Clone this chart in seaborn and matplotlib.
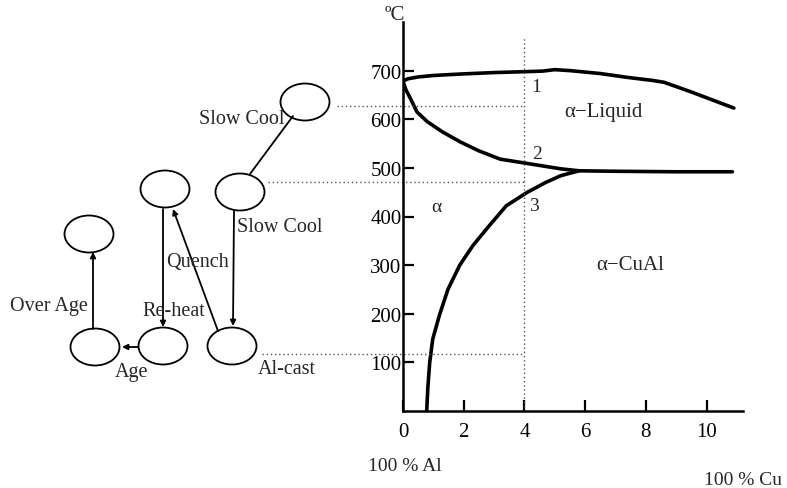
import numpy as np
import pandas as pd
import matplotlib
matplotlib.use("Agg")
import matplotlib.pyplot as plt
from matplotlib.patches import Ellipse
import seaborn as sns

# ---- data (phase diagram, % Cu vs temperature in °C) ----
liquidus_x = [0, 0.15, 0.5, 1.0, 1.9, 3.0, 4.1, 4.6, 5.0, 5.5, 6.5, 7.4, 8.2, 8.6, 9.5, 10.9]
liquidus_t = [678, 683, 687, 690, 693, 696, 698, 699, 702, 700, 694, 686, 680, 676, 656, 623]
solidus_x = [0, 0.1, 0.25, 0.46, 0.8, 1.3, 1.9, 2.5, 3.2, 4.1, 5.2, 5.8, 7.0, 9.0, 10.85]
solidus_t = [678, 660, 642, 615, 595, 574, 553, 535, 518, 509, 498, 494, 493, 492, 492]
solvus_x = [0.78, 0.82, 0.88, 0.98, 1.2, 1.48, 1.87, 2.3, 2.8, 3.4, 4.1, 4.7, 5.2, 5.8]
solvus_t = [0, 50, 100, 148, 197, 250, 300, 340, 378, 422, 450, 470, 484, 494]
x_ticks = [0, 2, 4, 6, 8, 10]
y_ticks = [100, 200, 300, 400, 500, 600, 700]
alloy_cu = 4
guide_temps = [628, 471, 117]          # dotted levels from the process nodes
guide_start = [-2.17, -4.45, -4.65]

# ---- process diagram (schematic nodes, pixel layout) ----
node_names = ["solution_top", "slow1", "quenched", "overaged", "aged", "reheat", "alcast"]
node_x = [305, 240, 165, 89, 95, 163, 232]
node_y = [103, 193, 190, 235, 348, 347, 347]
arrow_from = [(293, 117), (234, 212), (163, 210), (218, 332), (93, 330), (138, 348)]
arrow_to = [(250, 175), (233, 327), (163, 328), (173, 210), (93, 253), (122, 348)]
arrow_head = [False, True, True, True, True, True]
proc_labels = ["Slow Cool", "Slow Cool", "Quench", "Over Age", "Re-heat", "Age", "Al-cast"]
proc_lx = [199, 237, 166, 10, 142, 115, 258]
proc_ly = [120, 227, 263, 307, 312, 372, 370]

sns.set_theme(style="white")
plt.rcParams["font.family"] = ["Liberation Serif", "DejaVu Serif"]

W, H = 787, 489
fig = plt.figure(figsize=(W / 100, H / 100), dpi=100)
fig.patch.set_facecolor("white")

# phase diagram axes
x0, x1 = 403, 743
y0, y1 = 412, 23
ax = fig.add_axes([x0 / W, (H - y0) / H, (x1 - x0) / W, (y0 - y1) / H])
ax.set_xlim(0, 11.2)
ax.set_ylim(0, 800)
ax.patch.set_alpha(0)

for xs, ts in [(liquidus_x, liquidus_t), (solidus_x, solidus_t), (solvus_x, solvus_t)]:
    df = pd.DataFrame({"x": xs, "t": ts})
    sns.lineplot(data=df, x="x", y="t", ax=ax, color="black", lw=2.6, sort=False,
                 estimator=None)

dot = (0, (1, 2))
ax.plot([alloy_cu, alloy_cu], [0, 772], color="#555555", lw=1.0, ls=dot)
for t, xs in zip(guide_temps, guide_start):
    ax.plot([xs, alloy_cu], [t, t], color="#555555", lw=1.0, ls=dot, clip_on=False)

for s in ["top", "right"]:
    ax.spines[s].set_visible(False)
for s in ["left", "bottom"]:
    ax.spines[s].set_color("black")
    ax.spines[s].set_linewidth(1.8)
ax.set_xticks(x_ticks)
ax.set_yticks(y_ticks)
ax.set_xticklabels([str(v) for v in x_ticks])
ax.set_yticklabels([str(v) for v in y_ticks])
ax.tick_params(axis="both", which="major", direction="in", length=8, width=1.6,
               color="black", labelsize=15, labelcolor="black",
               left=True, bottom=True, top=False, right=False)
ax.tick_params(axis="y", pad=1)
ax.tick_params(axis="x", pad=8)
ax.set_xlabel("")
ax.set_ylabel("")

ax.text(-0.26, 815, "ºC", fontsize=15, ha="center", va="center")
ax.text(4.4, 667, "1", fontsize=14, ha="center", va="center")
ax.text(4.4, 529, "2", fontsize=14, ha="center", va="center")
ax.text(4.3, 422, "3", fontsize=14, ha="center", va="center")
ax.text(6.6, 615, "α−Liquid", fontsize=15, ha="center", va="center")
ax.text(1.1, 420, "α", fontsize=14, ha="center", va="center")
ax.text(7.5, 302, "α−CuAl", fontsize=15, ha="center", va="center")
ax.text(0.07, -113, "100 % Al", fontsize=14, ha="center", va="center", clip_on=False)
ax.text(11.2, -140, "100 % Cu", fontsize=14, ha="center", va="center", clip_on=False)

# overlay axes for process schematic in pixel coordinates
ov = fig.add_axes([0, 0, 1, 1])
ov.set_xlim(0, W)
ov.set_ylim(H, 0)
ov.axis("off")
ov.patch.set_alpha(0)

for nx, ny in zip(node_x, node_y):
    ov.add_patch(Ellipse((nx, ny), 49, 37, fill=False, ec="black", lw=1.3))

for (fx, fy), (tx, ty), hd in zip(arrow_from, arrow_to, arrow_head):
    ov.annotate("", xy=(tx, ty), xytext=(fx, fy),
                arrowprops=dict(arrowstyle="-|>" if hd else "-", color="black",
                                lw=1.3, mutation_scale=8, shrinkA=0, shrinkB=0))

for lab, lx, ly in zip(proc_labels, proc_lx, proc_ly):
    ov.text(lx, ly, lab, fontsize=14.5, ha="left", va="center")

fig.savefig("out.png", dpi=100, facecolor="white")
